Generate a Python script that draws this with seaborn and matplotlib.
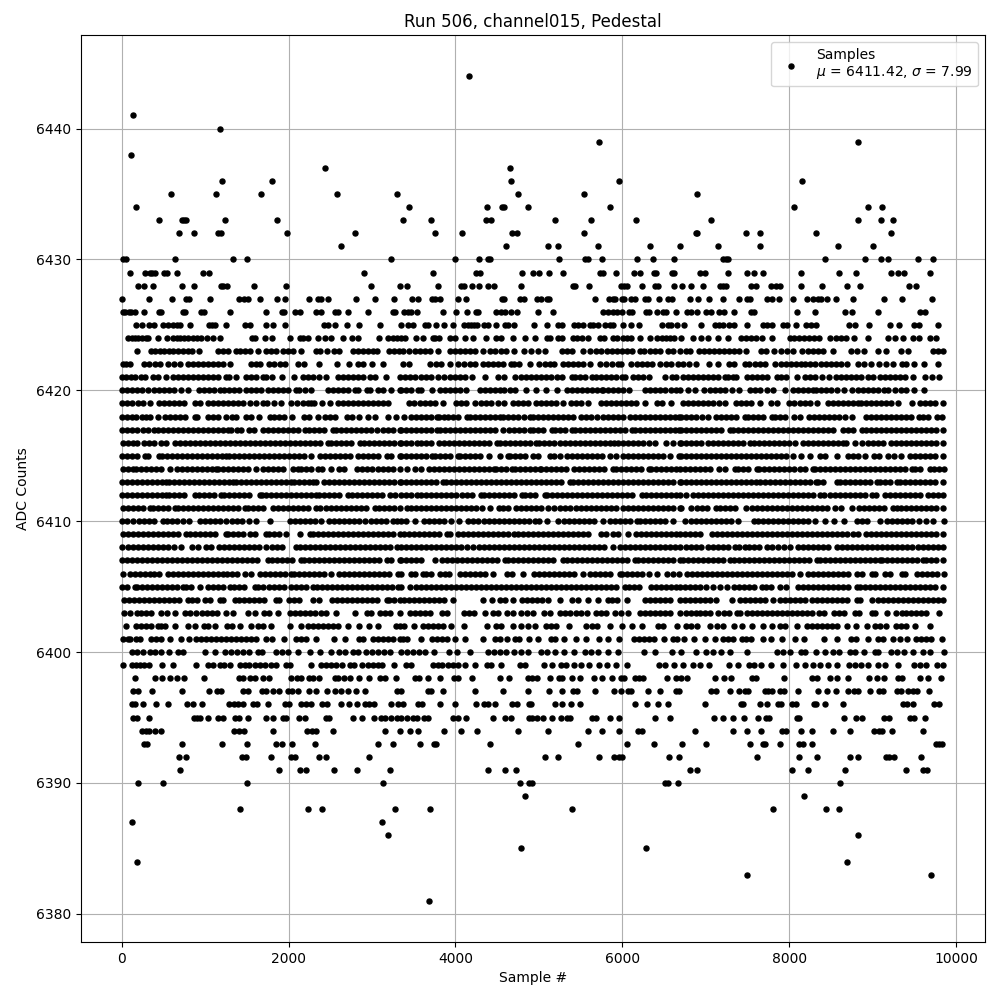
"""
Pedestal scatter for run 506, channel015
"""

import pandas as pd
import matplotlib
matplotlib.use('Agg')
import matplotlib.pyplot as plt
import seaborn as sns

# Sample numbers for each ADC count
s6444 = [4160]
s6441 = [140]
s6440 = [1180]
s6439 = [5725, 8826]
s6438 = [116]
s6437 = [2440, 4650]
s6436 = [1205, 1805, 4670, 5964, 8156]
s6435 = [595, 1134, 1673, 2583, 3302, 4750, 5545, 6898]
s6434 = [168, 3445, 4380, 4560, 4585, 4870, 5856, 8060, 8946, 9114]
s6433 = [451, 720, 748, 770, 1240, 1864, 3373, 3709, 4370, 4430, 5198, 5629, 6168, 7066, 8826, 9102, 9245]
s6432 = [690, 870, 1158, 1185, 1984, 2798, 3756, 4080, 4678, 4738, 5545, 6886, 6898, 7485, 7653, 8323, 9222]
s6431 = [2630, 4607, 5114, 5234, 5713, 6335, 6695, 7150, 7653, 8587, 9006]
s6430 = [20, 48, 643, 1337, 1505, 3230, 3996, 4283, 4390, 4420, 5245, 5557, 5593, 5760, 6180, 6371, 6623, 7210,
         7245, 7270, 8431, 8910, 9102, 9186, 9545, 9725]
s6429 = [104, 283, 339, 363, 399, 507, 543, 667, 978, 1050, 2906, 3733, 4252, 4300, 4802, 4934, 5006, 5126, 5293,
         5736, 5772, 5928, 6144, 6216, 6383, 6407, 6599, 6623, 6934, 6994, 7270, 7497, 7581, 7689, 8144, 8599, 8803,
         9222, 9306, 9378, 9689]
s6428 = [200, 271, 379, 727, 870, 1194, 1218, 1265, 1589, 1972, 2990, 3337, 3420, 3796, 4064, 4104, 4200, 4283,
         4390, 4463, 4786, 5413, 5437, 5605, 5988, 6024, 6060, 6240, 6395, 6431, 6623, 6719, 6826, 6970, 7174, 7210,
         7245, 7545, 7605, 7785, 7844, 7892, 8144, 8395, 8695, 8850, 9437, 9521]
s6427 = [8, 331, 607, 774, 810, 1062, 1409, 1469, 1517, 1661, 1864, 1960, 2247, 2355, 2391, 2475, 2810, 3038, 3265,
         3481, 3553, 3721, 3757, 3817, 4032, 4128, 4560, 4584, 4774, 4822, 4982, 5030, 5102, 5126, 5677, 5844, 5892,
         5916, 6000, 6024, 6108, 6156, 6275, 6311, 6443, 6551, 6599, 6814, 6910, 7042, 7210, 7401, 7497, 7533, 7737,
         7796, 7880, 8048, 8215, 8287, 8347, 8383, 8455, 8563, 8767, 9138, 9353, 9713]
s6426 = [20, 44, 92, 116, 164, 272, 451, 471, 739, 763, 954, 990, 1301, 1733, 1924, 1948, 2080, 2140, 2331, 2391,
         2559, 2595, 2714, 2954, 3253, 3277, 3385, 3433, 3469, 3541, 3852, 4008, 4140, 4248, 4272, 4487, 4547, 4595,
         4667, 4738, 4994, 5173, 5772, 5832, 5892, 5940, 6000, 6084, 6120, 6287, 6323, 6419, 6491, 6527, 6647, 6778,
         6826, 6898, 7006, 7066, 7162, 7222, 7341, 7545, 7581, 8096, 8311, 8671, 8755, 9066, 9569, 9629]
s6425 = [176, 248, 331, 391, 499, 559, 619, 667, 703, 822, 1050, 1086, 1122, 1253, 1481, 1541, 1733, 1817, 1960,
         2427, 2475, 2559, 2703, 2846, 3098, 3350, 3433, 3493, 3637, 3673, 3769, 3865, 3972, 4104, 4152, 4188, 4224,
         4260, 4344, 4392, 4487, 4595, 4631, 4707, 4946, 5102, 5234, 5282, 5425, 5473, 5533, 5617, 5653, 5713, 5796,
         5856, 5892, 6012, 6108, 6204, 6479, 6551, 6587, 6659, 6743, 6946, 7114, 7162, 7210, 7281, 7341, 7497, 7689,
         7737, 7796, 7928, 7976, 8084, 8204, 8263, 8323, 8719, 8791, 8958, 9210, 9318, 9497, 9557, 9785]
s6424 = [80, 120, 160, 200, 240, 287, 320, 440, 540, 620, 660, 700, 750, 800, 850, 900, 950, 1018, 1098, 1178, 1557,
         1600, 1717, 1805, 2016, 2136, 2176, 2230, 2355, 2435, 2515, 2655, 2755, 2834, 3086, 3194, 3250, 3300, 3350,
         3400, 3533, 3613, 3733, 3753, 3800, 3932, 3992, 4112, 4212, 4372, 4492, 4550, 4692, 4834, 4954, 5094, 5134,
         5234, 5274, 5413, 5453, 5513, 5593, 5733, 5780, 5892, 5932, 6012, 6052, 6100, 6212, 6331, 6411, 6471, 6520,
         6570, 6620, 6700, 6850, 6950, 7030, 7150, 7270, 7429, 7480, 7540, 7600, 7680, 7790, 8008, 8060, 8120, 8180,
         8240, 8300, 8360, 8487, 8567, 8620, 8680, 8780, 8946, 9186, 9266, 9366, 9485, 9557, 9685, 9765]
s6423 = [188, 350, 405, 455, 510, 565, 620, 680, 735, 790, 845, 925, 1150, 1210, 1270, 1370, 1420, 1480, 1540, 1640,
         1735, 1790, 1850, 1930, 1990, 2050, 2150, 2330, 2375, 2460, 2550, 2610, 2770, 2830, 2890, 2950, 3010, 3055,
         3200, 3260, 3330, 3375, 3450, 3515, 3575, 3640, 3700, 3790, 3930, 3990, 4050, 4110, 4170, 4230, 4330, 4415,
         4480, 4550, 4604, 4700, 4828, 4905, 4990, 5072, 5275, 5340, 5395, 5528, 5610, 5690, 5740, 5815, 5875, 5935,
         5995, 6055, 6115, 6215, 6265, 6335, 6390, 6450, 6550, 6610, 6690, 6760, 6810, 6925, 6985, 7045, 7105, 7165,
         7225, 7285, 7345, 7405, 7485, 7665, 7725, 7825, 7900, 7975, 8050, 8160, 8225, 8285, 8345, 8405, 8523, 8745,
         8815, 8900, 9065, 9165, 9345, 9425, 9725, 9785, 9845]
s6422 = [12, 55, 95, 270, 330, 395, 460, 550, 625, 695, 790, 850, 910, 970, 1030, 1090, 1150, 1210, 1295, 1550, 1610,
         1655, 1770, 1830, 1895, 1955, 2110, 2185, 2360, 2580, 2720, 2830, 2890, 2995, 3132, 3370, 3450, 3700, 3770,
         3825, 3932, 4035, 4105, 4175, 4240, 4330, 4390, 4450, 4510, 4570, 4665, 4700, 4765, 4900, 5005, 5070, 5130,
         5185, 5290, 5350, 5410, 5470, 5530, 5615, 5732, 5800, 5880, 5955, 5985, 6100, 6180, 6240, 6300, 6360, 6455,
         6530, 6585, 6668, 6725, 6800, 6890, 7045, 7150, 7275, 7340, 7470, 7525, 7590, 7650, 7710, 7830, 7905, 7965,
         8025, 8085, 8140, 8185, 8250, 8307, 8385, 8445, 8505, 8565, 8625, 8690, 8825, 8900, 8983, 9083, 9167, 9245,
         9350, 9405, 9500, 9615, 9783]
s6421 = [5, 55, 110, 165, 235, 285, 375, 435, 535, 610, 670, 730, 790, 850, 910, 970, 1030, 1090, 1150, 1255, 1290,
         1375, 1490, 1550, 1610, 1695, 1735, 1805, 1920, 2060, 2170, 2230, 2295, 2370, 2455, 2590, 2650, 2710, 2770,
         2830, 2890, 2975, 3040, 3172, 3340, 3400, 3460, 3515, 3590, 3650, 3710, 3795, 3860, 3930, 3990, 4050, 4110,
         4195, 4352, 4510, 4585, 4720, 4790, 4850, 4910, 4970, 5030, 5090, 5150, 5215, 5275, 5395, 5435, 5495, 5555,
         5635, 5690, 5750, 5810, 5870, 5930, 5995, 6030, 6135, 6195, 6250, 6315, 6510, 6595, 6650, 6725, 6785, 6845,
         6905, 6965, 7025, 7085, 7145, 7230, 7265, 7330, 7365, 7490, 7555, 7615, 7675, 7735, 7850, 7905, 7965, 8090,
         8190, 8250, 8310, 8390, 8475, 8565, 8625, 8685, 8745, 8805, 8865, 8950, 9007, 9085, 9150, 9210, 9265, 9335,
         9395, 9490, 9635, 9710, 9795]
s6420 = [5, 60, 120, 180, 240, 315, 390, 450, 510, 570, 630, 715, 792, 930, 990, 1050, 1110, 1175, 1230, 1290, 1350,
         1410, 1495, 1555, 1615, 1675, 1755, 1810, 1870, 1930, 1990, 2095, 2130, 2200, 2275, 2470, 2530, 2590, 2650,
         2710, 2795, 2830, 2935, 2972, 3070, 3135, 3230, 3335, 3350, 3410, 3470, 3555, 3592, 3720, 3810, 3870, 3930,
         3990, 4050, 4125, 4300, 4360, 4420, 4480, 4540, 4585, 4650, 4715, 4852, 4970, 5085, 5220, 5335, 5395, 5455,
         5515, 5575, 5635, 5695, 5755, 5775, 5835, 5895, 5955, 6015, 6085, 6275, 6335, 6395, 6455, 6515, 6585, 6650,
         6695, 6783, 6870, 6975, 7055, 7115, 7175, 7235, 7320, 7405, 7530, 7590, 7650, 7738, 7805, 7950, 8045, 8105,
         8165, 8225, 8290, 8325, 8385, 8445, 8505, 8578, 8663, 8755, 8825, 8885, 8945, 9005, 9065, 9140, 9185, 9270,
         9345, 9400, 9495, 9615]
s6419 = [5, 60, 120, 200, 255, 340, 450, 510, 570, 630, 690, 750, 875, 940, 1030, 1090, 1150, 1210, 1270, 1330, 1395,
         1450, 1535, 1610, 1695, 1740, 1830, 1915, 2030, 2105, 2175, 2230, 2275, 2310, 2400, 2495, 2590, 2650, 2710,
         2770, 2830, 2890, 2950, 3010, 3070, 3130, 3195, 3450, 3510, 3570, 3630, 3690, 3750, 3855, 4010, 4070, 4130,
         4235, 4310, 4370, 4430, 4515, 4580, 4695, 4750, 4810, 4870, 4965, 5030, 5090, 5150, 5210, 5295, 5390, 5450,
         5510, 5595, 5740, 5800, 5860, 5920, 5980, 6040, 6100, 6160, 6275, 6420, 6480, 6585, 6725, 6785, 6845, 6905,
         6965, 7025, 7085, 7165, 7235, 7365, 7425, 7485, 7545, 7650, 7785, 7850, 8005, 8065, 8125, 8185, 8245, 8340,
         8465, 8525, 8585, 8645, 8705, 8765, 8830, 8865, 8925, 8985, 9045, 9105, 9165, 9225, 9310, 9475, 9565, 9625,
         9685, 9745, 9845]
s6418 = [5, 60, 120, 175, 245, 295, 335, 435, 520, 580, 640, 700, 760, 875, 905, 1035, 1095, 1155, 1255, 1325, 1375,
         1490, 1545, 1650, 1775, 1820, 1880, 1940, 2045, 2190, 2250, 2355, 2440, 2500, 2560, 2695, 2760, 2845, 2950,
         3035, 3190, 3285, 3380, 3465, 3530, 3590, 3650, 3710, 3785, 3805, 3865, 3910, 3970, 4030, 4135, 4170, 4230,
         4290, 4350, 4410, 4470, 4535, 4570, 4630, 4690, 4750, 4825, 4890, 4935, 4990, 5050, 5110, 5170, 5230, 5290,
         5350, 5415, 5510, 5570, 5630, 5695, 5770, 5830, 5890, 5950, 6010, 6090, 6150, 6210, 6270, 6330, 6390, 6450,
         6510, 6570, 6630, 6675, 6700, 6760, 6820, 6880, 6960, 7023, 7125, 7185, 7245, 7305, 7365, 7470, 7505, 7565,
         7625, 7685, 7790, 7830, 7890, 7950, 8055, 8135, 8235, 8295, 8355, 8415, 8475, 8535, 8595, 8670, 8755, 8925,
         8985, 9045, 9105, 9165, 9225, 9285, 9345, 9405, 9465, 9560, 9605, 9670, 9770, 9835]
s6417 = [5, 60, 120, 180, 255, 310, 385, 435, 490, 550, 610, 670, 730, 790, 850, 910, 970, 1030, 1090, 1150, 1210,
         1270, 1315, 1385, 1435, 1530, 1590, 1695, 1750, 1810, 1870, 1930, 1990, 2050, 2110, 2195, 2240, 2300, 2360,
         2420, 2535, 2570, 2630, 2690, 2750, 2810, 2870, 2930, 2990, 3055, 3130, 3190, 3250, 3335, 3350, 3410, 3470,
         3530, 3590, 3650, 3710, 3775, 3810, 3870, 3930, 3990, 4050, 4110, 4170, 4230, 4290, 4350, 4410, 4470, 4575,
         4640, 4700, 4760, 4820, 4895, 4930, 4990, 5050, 5155, 5190, 5250, 5310, 5395, 5430, 5490, 5550, 5610, 5670,
         5730, 5790, 5850, 5910, 5970, 6030, 6115, 6150, 6210, 6270, 6330, 6390, 6450, 6510, 6570, 6630, 6675, 6705,
         6765, 6825, 6885, 6945, 7005, 7065, 7125, 7185, 7290, 7325, 7385, 7445, 7505, 7565, 7625, 7685, 7745, 7805,
         7865, 7925, 7985, 8045, 8105, 8165, 8225, 8290, 8345, 8405, 8465, 8525, 8650, 8705, 8765, 8880, 8925, 8985,
         9045, 9105, 9165, 9225, 9285, 9345, 9405, 9465, 9525, 9585, 9645, 9705, 9765, 9845]
s6416 = [10, 70, 130, 185, 270, 330, 390, 470, 535, 640, 700, 760, 820, 880, 940, 1000, 1060, 1120, 1180, 1240, 1300,
         1360, 1420, 1480, 1540, 1600, 1655, 1720, 1780, 1840, 1900, 1960, 2020, 2080, 2140, 2200, 2260, 2320, 2380,
         2475, 2510, 2570, 2630, 2690, 2750, 2855, 2910, 2970, 3030, 3090, 3150, 3210, 3270, 3335, 3350, 3410, 3470,
         3535, 3590, 3650, 3710, 3805, 3860, 3920, 3980, 4040, 4100, 4160, 4220, 4280, 4340, 4400, 4495, 4530, 4590,
         4650, 4710, 4770, 4830, 4890, 4965, 5000, 5060, 5120, 5180, 5250, 5315, 5370, 5430, 5490, 5550, 5610, 5670,
         5730, 5790, 5855, 5900, 5955, 6015, 6075, 6135, 6195, 6255, 6315, 6395, 6528, 6610, 6695, 6705, 6765, 6825,
         6885, 6945, 7030, 7085, 7145, 7205, 7265, 7325, 7385, 7445, 7530, 7575, 7645, 7705, 7765, 7825, 7885, 7945,
         8005, 8070, 8165, 8225, 8285, 8345, 8405, 8465, 8525, 8585, 8650, 8687, 8785, 8870, 8945, 9005, 9065, 9125,
         9218, 9285, 9345, 9405, 9465, 9525, 9585, 9645, 9705, 9765, 9845]
s6415 = [5, 65, 125, 185, 275, 320, 445, 480, 540, 600, 660, 720, 780, 840, 900, 960, 1020, 1080, 1140, 1200, 1255,
         1290, 1350, 1410, 1470, 1530, 1590, 1650, 1710, 1770, 1830, 1890, 1950, 2010, 2070, 2130, 2190, 2275, 2380,
         2440, 2500, 2560, 2620, 2680, 2740, 2835, 2890, 2950, 3010, 3070, 3175, 3230, 3335, 3350, 3410, 3470, 3530,
         3590, 3650, 3715, 3750, 3810, 3870, 3930, 4035, 4060, 4120, 4180, 4240, 4300, 4405, 4530, 4635, 4660, 4720,
         4780, 4840, 4935, 4990, 5135, 5180, 5252, 5340, 5400, 5460, 5520, 5580, 5640, 5700, 5760, 5855, 5920, 6010,
         6070, 6130, 6190, 6250, 6310, 6370, 6430, 6490, 6575, 6680, 6705, 6765, 6825, 6885, 6945, 7005, 7065, 7125,
         7185, 7245, 7305, 7365, 7425, 7485, 7545, 7605, 7665, 7725, 7785, 7845, 7905, 7965, 8050, 8145, 8250, 8365,
         8425, 8578, 8705, 8765, 8825, 8910, 9015, 9075, 9190, 9255, 9345, 9450, 9505, 9565, 9625, 9685, 9745, 9845]
s6414 = [15, 75, 135, 170, 230, 290, 350, 410, 470, 575, 660, 720, 780, 840, 900, 960, 1020, 1080, 1135, 1150, 1210,
         1270, 1330, 1390, 1450, 1510, 1605, 1690, 1750, 1810, 1870, 1930, 2055, 2110, 2155, 2210, 2270, 2355, 2400,
         2515, 2610, 2670, 2825, 2880, 2940, 3000, 3075, 3130, 3190, 3250, 3335, 3425, 3520, 3585, 3685, 3740, 3800,
         3860, 3920, 3980, 4040, 4100, 4160, 4220, 4280, 4340, 4400, 4465, 4490, 4550, 4610, 4675, 4710, 4770, 4830,
         4890, 4950, 5015, 5030, 5090, 5150, 5210, 5270, 5330, 5425, 5480, 5540, 5600, 5660, 5720, 5780, 5885, 5930,
         5990, 6050, 6110, 6170, 6230, 6315, 6340, 6400, 6460, 6520, 6580, 6640, 6695, 6750, 6810, 6870, 6930, 6990,
         7050, 7160, 7235, 7350, 7385, 7445, 7505, 7610, 7645, 7705, 7765, 7825, 7885, 7945, 8005, 8065, 8125, 8185,
         8290, 8315, 8375, 8435, 8495, 8555, 8615, 8675, 8735, 8795, 8855, 8915, 8975, 9035, 9095, 9155, 9215, 9275,
         9335, 9395, 9470, 9515, 9575, 9690, 9735, 9795, 9856]
s6413 = [5, 60, 120, 180, 240, 300, 360, 420, 480, 535, 570, 630, 690, 750, 810, 870, 930, 990, 1050, 1110, 1170,
         1230, 1290, 1335, 1370, 1430, 1490, 1550, 1610, 1670, 1730, 1790, 1850, 1910, 1970, 2035, 2060, 2120, 2180,
         2240, 2295, 2330, 2430, 2490, 2550, 2610, 2670, 2730, 2790, 2850, 2910, 2970, 3030, 3090, 3150, 3210, 3270,
         3335, 3350, 3410, 3470, 3530, 3590, 3650, 3710, 3770, 3855, 3890, 3950, 4010, 4070, 4130, 4190, 4250, 4310,
         4370, 4430, 4490, 4550, 4610, 4670, 4730, 4790, 4850, 4910, 4970, 5030, 5090, 5150, 5210, 5270, 5375, 5410,
         5470, 5530, 5590, 5650, 5710, 5770, 5830, 5890, 5950, 6010, 6070, 6130, 6190, 6250, 6310, 6370, 6430, 6490,
         6550, 6610, 6695, 6705, 6765, 6825, 6885, 6945, 7005, 7065, 7125, 7185, 7245, 7305, 7365, 7425, 7485, 7545,
         7600, 7655, 7715, 7775, 7835, 7895, 7955, 8015, 8075, 8135, 8195, 8255, 8320, 8350, 8410, 8570, 8615, 8675,
         8735, 8795, 8855, 8915, 8975, 9050, 9085, 9145, 9205, 9290, 9335, 9395, 9455, 9515, 9575, 9635, 9695, 9755,
         9850]
s6412 = [5, 65, 125, 185, 245, 305, 365, 425, 485, 535, 570, 630, 690, 750, 875, 930, 990, 1050, 1110, 1195, 1230,
         1290, 1350, 1410, 1470, 1530, 1655, 1680, 1730, 1790, 1850, 1910, 1970, 2030, 2090, 2150, 2210, 2270, 2335,
         2370, 2430, 2490, 2550, 2610, 2715, 2760, 2820, 2880, 2940, 3000, 3060, 3120, 3215, 3280, 3350, 3410, 3470,
         3545, 3590, 3650, 3710, 3770, 3830, 3890, 3950, 4010, 4085, 4140, 4200, 4305, 4340, 4400, 4460, 4520, 4580,
         4640, 4700, 4795, 4830, 4890, 4950, 5075, 5100, 5160, 5220, 5280, 5340, 5400, 5460, 5520, 5580, 5640, 5700,
         5760, 5820, 5880, 5940, 6000, 6060, 6120, 6235, 6280, 6340, 6400, 6460, 6520, 6580, 6640, 6695, 6770, 6845,
         6905, 6965, 7025, 7085, 7145, 7205, 7265, 7325, 7385, 7445, 7505, 7565, 7625, 7685, 7745, 7805, 7865, 7925,
         7985, 8045, 8105, 8165, 8225, 8285, 8370, 8423, 8495, 8555, 8615, 8675, 8735, 8795, 8855, 8915, 9000, 9045,
         9150, 9205, 9265, 9325, 9385, 9445, 9505, 9570, 9665, 9725, 9785, 9845]
s6411 = [15, 75, 135, 195, 255, 335, 370, 430, 490, 550, 635, 670, 730, 790, 850, 910, 970, 1030, 1090, 1150, 1210,
         1270, 1330, 1390, 1475, 1520, 1580, 1640, 1700, 1815, 1870, 1930, 1990, 2050, 2110, 2170, 2230, 2335, 2380,
         2455, 2510, 2570, 2630, 2690, 2750, 2810, 2870, 2930, 3035, 3080, 3140, 3200, 3260, 3335, 3425, 3470, 3530,
         3590, 3650, 3710, 3770, 3830, 3890, 3950, 4010, 4070, 4130, 4190, 4250, 4325, 4410, 4525, 4570, 4635, 4730,
         4790, 4850, 4910, 4970, 5030, 5105, 5180, 5260, 5320, 5380, 5440, 5500, 5560, 5620, 5680, 5740, 5800, 5865,
         5930, 6010, 6070, 6130, 6190, 6250, 6310, 6370, 6430, 6490, 6550, 6610, 6695, 6710, 6830, 6895, 6955, 7015,
         7120, 7175, 7235, 7295, 7355, 7480, 7555, 7615, 7675, 7735, 7795, 7855, 7915, 7975, 8035, 8095, 8155, 8215,
         8275, 8335, 8395, 8455, 8550, 8625, 8750, 8835, 8895, 8955, 9015, 9075, 9135, 9250, 9295, 9345, 9405, 9465,
         9525, 9585, 9645, 9705, 9765, 9845]
s6410 = [5, 65, 135, 210, 270, 330, 390, 495, 540, 600, 660, 735, 810, 940, 1000, 1060, 1120, 1180, 1255, 1320, 1380,
         1440, 1525, 1610, 1780, 2020, 2080, 2140, 2200, 2260, 2320, 2395, 2480, 2540, 2600, 2660, 2720, 2780, 2840,
         2915, 2990, 3050, 3110, 3170, 3255, 3300, 3350, 3410, 3515, 3620, 3680, 3740, 3800, 3860, 3945, 4040, 4150,
         4210, 4270, 4345, 4400, 4460, 4520, 4580, 4640, 4700, 4760, 4820, 4880, 4955, 5000, 5100, 5225, 5300, 5360,
         5420, 5480, 5540, 5600, 5660, 5775, 5850, 5910, 5970, 6030, 6090, 6175, 6210, 6270, 6330, 6390, 6450, 6510,
         6605, 6755, 6823, 6885, 6945, 7005, 7065, 7125, 7185, 7245, 7305, 7390, 7585, 7630, 7685, 7745, 7805, 7865,
         7925, 7985, 8045, 8105, 8165, 8225, 8310, 8427, 8543, 8655, 8815, 8875, 8935, 9090, 9175, 9235, 9295, 9355,
         9415, 9475, 9560, 9640, 9730, 9855]
s6409 = [15, 75, 135, 195, 255, 310, 370, 430, 490, 550, 610, 670, 775, 820, 880, 940, 1000, 1060, 1120, 1245, 1270,
         1330, 1390, 1450, 1535, 1600, 1735, 1770, 1830, 1890, 1975, 2140, 2255, 2290, 2350, 2410, 2470, 2530, 2590,
         2650, 2710, 2770, 2830, 2890, 2950, 3010, 3070, 3130, 3190, 3250, 3335, 3380, 3440, 3500, 3560, 3620, 3680,
         3740, 3800, 3895, 3940, 4035, 4090, 4150, 4210, 4270, 4330, 4390, 4450, 4510, 4570, 4630, 4705, 4750, 4810,
         4870, 4930, 4990, 5050, 5110, 5170, 5230, 5290, 5355, 5410, 5470, 5530, 5590, 5745, 5810, 5890, 5950, 6065,
         6160, 6220, 6280, 6340, 6400, 6460, 6520, 6580, 6640, 6695, 6755, 6815, 6875, 6935, 7075, 7135, 7195, 7255,
         7315, 7375, 7435, 7495, 7555, 7615, 7675, 7735, 7795, 7855, 7915, 7975, 8035, 8095, 8155, 8215, 8275, 8335,
         8395, 8455, 8515, 8575, 8635, 8695, 8770, 8827, 8925, 8985, 9045, 9105, 9165, 9225, 9285, 9345, 9405, 9465,
         9525, 9585, 9645, 9705, 9765, 9845]
s6408 = [8, 80, 140, 200, 260, 320, 380, 440, 500, 560, 625, 710, 845, 920, 1005, 1070, 1170, 1230, 1290, 1350, 1410,
         1470, 1530, 1590, 1650, 1735, 1800, 1860, 1920, 2095, 2140, 2200, 2260, 2320, 2380, 2440, 2500, 2560, 2620,
         2680, 2740, 2800, 2860, 2920, 2980, 3040, 3100, 3160, 3220, 3295, 3350, 3410, 3470, 3530, 3590, 3650, 3710,
         3770, 3830, 3890, 3950, 4010, 4070, 4135, 4210, 4280, 4340, 4400, 4460, 4520, 4580, 4640, 4700, 4760, 4820,
         4880, 4940, 5000, 5060, 5120, 5180, 5240, 5300, 5360, 5420, 5480, 5540, 5600, 5660, 5720, 5780, 5895, 5970,
         6030, 6090, 6150, 6210, 6270, 6330, 6390, 6450, 6510, 6570, 6630, 6695, 6760, 6820, 6880, 6950, 7025, 7085,
         7145, 7205, 7265, 7350, 7405, 7470, 7525, 7585, 7645, 7730, 7790, 7870, 7935, 8015, 8105, 8165, 8225, 8285,
         8345, 8405, 8465, 8570, 8635, 8695, 8755, 8815, 8875, 8935, 8995, 9055, 9115, 9175, 9235, 9295, 9355, 9415,
         9470, 9545, 9605, 9665, 9725, 9785, 9845]
s6407 = [5, 65, 125, 185, 245, 305, 365, 425, 485, 545, 605, 665, 725, 785, 845, 905, 965, 1025, 1085, 1145, 1205,
         1265, 1325, 1385, 1445, 1505, 1565, 1625, 1755, 1800, 1860, 1920, 1980, 2040, 2155, 2180, 2240, 2300, 2360,
         2420, 2480, 2540, 2600, 2660, 2720, 2780, 2840, 2900, 2960, 3020, 3080, 3175, 3230, 3335, 3350, 3410, 3470,
         3530, 3590, 3755, 3840, 3900, 3960, 4020, 4080, 4140, 4200, 4260, 4320, 4380, 4440, 4500, 4595, 4630, 4690,
         4750, 4810, 4870, 4930, 4990, 5050, 5110, 5170, 5295, 5340, 5400, 5460, 5520, 5580, 5640, 5700, 5760, 5820,
         5880, 5940, 6000, 6060, 6155, 6190, 6250, 6310, 6370, 6430, 6490, 6550, 6610, 6695, 6725, 6785, 6845, 6905,
         6965, 7025, 7085, 7145, 7205, 7290, 7335, 7395, 7455, 7515, 7575, 7635, 7695, 7755, 7815, 7875, 7935, 7995,
         8055, 8115, 8175, 8235, 8330, 8365, 8425, 8485, 8545, 8605, 8665, 8725, 8785, 8845, 8905, 8965, 9025, 9090,
         9115, 9175, 9235, 9295, 9355, 9415, 9475, 9535, 9600, 9645, 9705, 9765, 9845]
s6406 = [20, 100, 160, 220, 280, 345, 390, 450, 555, 620, 680, 740, 800, 860, 920, 980, 1040, 1100, 1160, 1215, 1260,
         1320, 1380, 1475, 1550, 1655, 1720, 1780, 1840, 1900, 1960, 2035, 2060, 2120, 2180, 2240, 2300, 2360, 2420,
         2515, 2610, 2670, 2730, 2790, 2850, 2910, 2970, 3030, 3090, 3150, 3210, 3315, 3350, 3465, 3520, 3615, 3650,
         3710, 3815, 3870, 3925, 4050, 4110, 4170, 4230, 4290, 4350, 4455, 4620, 4680, 4805, 4940, 5000, 5060, 5120,
         5180, 5240, 5300, 5360, 5425, 5530, 5610, 5670, 5730, 5790, 5850, 5975, 6000, 6060, 6120, 6180, 6240, 6325,
         6420, 6535, 6610, 6680, 6775, 6835, 6895, 6955, 7015, 7080, 7135, 7195, 7255, 7315, 7375, 7435, 7495, 7555,
         7615, 7675, 7735, 7795, 7855, 7915, 7975, 8035, 8130, 8225, 8285, 8345, 8405, 8465, 8525, 8585, 8645, 8705,
         8810, 8870, 8990, 9030, 9145, 9205, 9350, 9395, 9530, 9595, 9655, 9715, 9775, 9855]
s6405 = [5, 65, 155, 180, 240, 300, 360, 420, 480, 540, 600, 660, 735, 770, 830, 935, 1040, 1100, 1160, 1220, 1295,
         1350, 1410, 1470, 1595, 1640, 1700, 1760, 1820, 1880, 1940, 2035, 2090, 2150, 2210, 2295, 2340, 2400, 2460,
         2520, 2580, 2640, 2700, 2760, 2820, 2880, 2940, 3000, 3060, 3120, 3180, 3240, 3315, 3350, 3455, 3530, 3590,
         3650, 3710, 3770, 3830, 3890, 3950, 4010, 4070, 4130, 4190, 4250, 4310, 4370, 4430, 4490, 4550, 4610, 4670,
         4730, 4790, 4850, 4910, 4970, 5030, 5090, 5150, 5210, 5270, 5330, 5390, 5450, 5510, 5570, 5630, 5690, 5750,
         5810, 5870, 5930, 6035, 6080, 6140, 6200, 6345, 6400, 6460, 6520, 6580, 6640, 6695, 6755, 6815, 6875, 6935,
         7000, 7090, 7167, 7255, 7345, 7405, 7465, 7525, 7585, 7680, 7725, 7785, 7890, 7965, 8110, 8165, 8225, 8285,
         8345, 8405, 8465, 8525, 8585, 8645, 8705, 8810, 8855, 8915, 8975, 9035, 9095, 9155, 9215, 9275, 9335, 9395,
         9455, 9515, 9575, 9635, 9695, 9755, 9850]
s6404 = [30, 90, 150, 210, 270, 330, 390, 450, 510, 570, 630, 690, 795, 845, 905, 1000, 1060, 1175, 1220, 1355, 1410,
         1470, 1530, 1590, 1650, 1710, 1845, 1890, 2005, 2060, 2120, 2295, 2360, 2520, 2580, 2640, 2700, 2760, 2820,
         2880, 2940, 3000, 3060, 3175, 3210, 3270, 3335, 3380, 3440, 3500, 3560, 3620, 3680, 3740, 3800, 3860, 3975,
         4330, 4435, 4540, 4600, 4685, 4800, 4860, 4920, 4980, 5040, 5115, 5260, 5395, 5470, 5595, 5710, 5825, 5880,
         5940, 6055, 6270, 6330, 6390, 6450, 6510, 6570, 6695, 6755, 6815, 6875, 6935, 6995, 7055, 7130, 7315, 7415,
         7475, 7535, 7595, 7655, 7715, 7810, 7895, 7955, 8015, 8075, 8135, 8195, 8270, 8335, 8395, 8455, 8515, 8575,
         8635, 8695, 8810, 8850, 9000, 9065, 9125, 9185, 9245, 9305, 9365, 9425, 9485, 9545, 9605, 9665, 9725, 9785,
         9845]
s6403 = [28, 105, 185, 230, 290, 350, 475, 540, 635, 760, 820, 895, 960, 1020, 1080, 1140, 1245, 1330, 1520, 1595,
         1710, 1770, 1875, 2020, 2080, 2140, 2200, 2260, 2320, 2395, 2455, 2570, 2800, 2935, 2990, 3100, 3160, 3220,
         3335, 3460, 3520, 3580, 3640, 3700, 3835, 3900, 4100, 4160, 4220, 4355, 4450, 4510, 4615, 4690, 4785, 4860,
         4935, 5060, 5135, 5260, 5320, 5380, 5440, 5500, 5575, 5680, 5740, 5800, 5915, 5990, 6075, 6210, 6270, 6330,
         6390, 6450, 6510, 6570, 6695, 6760, 6820, 6890, 6935, 6995, 7055, 7150, 7215, 7275, 7378, 7415, 7490, 7555,
         7615, 7675, 7735, 7795, 7855, 7915, 7975, 8035, 8095, 8155, 8215, 8275, 8360, 8415, 8535, 8595, 8655, 8790,
         8835, 8990, 9030, 9170, 9285, 9350, 9405, 9465, 9525, 9585, 9645, 9800]
s6402 = [52, 170, 230, 290, 350, 435, 470, 520, 640, 800, 875, 990, 1035, 1120, 1260, 1320, 1415, 1550, 1630, 1690,
         1795, 2020, 2155, 2230, 2290, 2350, 2410, 2470, 2530, 2590, 2715, 2850, 2970, 3075, 3290, 3340, 3390, 3505,
         3610, 3670, 3730, 3790, 3850, 3945, 4100, 4380, 4490, 4550, 4695, 4790, 4875, 4950, 5090, 5150, 5210, 5365,
         5570, 5635, 5700, 5850, 5995, 6120, 6240, 6430, 6490, 6655, 6765, 6830, 6895, 7050, 7135, 7210, 7345, 7430,
         7555, 7685, 7800, 7895, 7955, 8090, 8215, 8275, 8335, 8395, 8455, 8515, 8575, 8690, 8805, 8930, 9025, 9085,
         9160, 9285, 9345, 9405, 9510, 9695]
s6401 = [12, 75, 105, 175, 220, 350, 410, 470, 575, 710, 805, 890, 950, 1010, 1070, 1130, 1190, 1250, 1310, 1370,
         1430, 1490, 1555, 1610, 1725, 1800, 1950, 2090, 2150, 2210, 2335, 2550, 2675, 2850, 2895, 3010, 3070, 3130,
         3190, 3250, 3335, 3370, 3415, 3590, 3720, 3780, 3840, 3900, 3995, 4120, 4330, 4470, 4530, 4615, 4710, 4765,
         4880, 4995, 5150, 5195, 5300, 5440, 5560, 5720, 5830, 5960, 6140, 6200, 6260, 6320, 6380, 6495, 6610, 6655,
         6735, 6865, 6990, 7115, 7205, 7265, 7325, 7430, 7485, 7545, 7690, 7785, 7910, 8067, 8175, 8415, 8575, 8745,
         8805, 8950, 9065, 9125, 9250, 9325, 9410, 9525, 9585, 9645, 9705, 9830]
s6400 = [128, 188, 259, 343, 403, 475, 571, 679, 739, 1002, 1122, 1241, 1313, 1385, 1457, 1529, 1637, 1685, 1852,
         1924, 1996, 2116, 2259, 2379, 2507, 2607, 2679, 2774, 2834, 2930, 3002, 3074, 3146, 3217, 3350, 3421, 3493,
         3565, 3637, 3745, 3924, 4020, 4176, 4391, 4463, 4535, 4607, 4703, 4786, 4870, 5030, 5102, 5198, 5305, 5425,
         5557, 5629, 5713, 5832, 5952, 6263, 6395, 6599, 6699, 6886, 7006, 7090, 7186, 7293, 7497, 7856, 7928, 8012,
         8144, 8191, 8323, 8431, 8527, 8599, 8731, 8791, 8898, 9030, 9066, 9222, 9294, 9378, 9485, 9605, 9689, 9856]
s6399 = [20, 128, 176, 224, 272, 331, 487, 619, 894, 1038, 1098, 1182, 1230, 1301, 1421, 1481, 1529, 1601, 1661, 1721,
         1793, 1852, 1972, 2020, 2271, 2391, 2455, 2511, 2571, 2643, 2739, 2787, 2882, 2954, 3014, 3074, 3122, 3265,
         3409, 3469, 3733, 3793, 3840, 3912, 3972, 4032, 4116, 4236, 4379, 4427, 4551, 4774, 4834, 5066, 5162, 5270,
         5329, 5425, 5509, 5605, 5725, 5820, 5928, 6060, 6443, 6515, 6623, 6731, 6850, 6934, 7042, 7281, 7389, 7521,
         7581, 7665, 7785, 7928, 8084, 8191, 8287, 8371, 8467, 8575, 8719, 8791, 8862, 8946, 9066, 9150, 9306, 9497,
         9569, 9645, 9773, 9844]
s6398 = [164, 403, 487, 583, 667, 751, 990, 1409, 1457, 1541, 1601, 1697, 1769, 2032, 2104, 2152, 2247, 2295, 2367,
         2559, 2595, 2667, 2739, 2846, 2966, 3098, 3158, 3289, 3517, 3565, 3673, 3816, 3984, 4032, 4200, 4535, 4643,
         4870, 4914, 4974, 5138, 5246, 5282, 5401, 5497, 5665, 5760, 5880, 5988, 6024, 6156, 6204, 6251, 6539, 6647,
         6707, 6778, 7114, 7222, 7305, 7557, 7605, 7940, 8275, 8335, 8491, 8575, 8707, 8958, 9054, 9138, 9306, 9353,
         9569, 9665, 9820]
s6397 = [140, 200, 367, 727, 1050, 1146, 1194, 1457, 1517, 1685, 1733, 1817, 1888, 1996, 2044, 2116, 2247, 2331, 2463,
         2559, 2631, 2714, 2810, 2918, 3301, 3350, 3673, 3709, 3852, 4236, 4571, 4870, 5126, 5282, 5413, 5461, 5677,
         5904, 5988, 6072, 6108, 6311, 6455, 6647, 6683, 7066, 7126, 7289, 7401, 7473, 7509, 7713, 7749, 7796, 7892,
         7940, 8108, 8347, 8455, 8559, 8707, 8779, 8826, 8970, 9078, 9126, 9294, 9342, 9425, 9485, 9533, 9673]
s6396 = [124, 164, 259, 415, 559, 787, 859, 966, 1289, 1349, 1397, 1457, 1577, 1625, 1757, 1960, 2008, 2152, 2212,
         2272, 2403, 2463, 2631, 2727, 2822, 2918, 2966, 3026, 3229, 3313, 3373, 3553, 3601, 3816, 3996, 4248, 4343,
         4391, 4475, 4679, 4739, 4882, 4902, 5198, 5282, 5389, 5497, 6156, 6299, 6431, 6551, 6994, 7425, 7449, 7653,
         7737, 7868, 7904, 8036, 8084, 8299, 8323, 8431, 8647, 9366, 9413, 9485, 9737, 9796]
s6395 = [140, 188, 331, 870, 906, 942, 1034, 1158, 1218, 1361, 1409, 1517, 1733, 1817, 1936, 1972, 2128, 2200, 2455,
         2487, 2774, 2878, 3026, 3110, 3158, 3230, 3301, 3350, 3421, 3493, 3541, 3625, 3673, 3972, 4032, 4128, 4451,
         4595, 4667, 4882, 4914, 4974, 5054, 5162, 5262, 5341, 5377, 5641, 5689, 5856, 5964, 6395, 6575, 7102, 7210,
         7329, 7461, 7629, 7725, 7760, 8096, 8120, 8659, 8803, 8874, 9138, 9198, 9449, 9497, 9629]
s6394 = [248, 290, 331, 399, 475, 1350, 1410, 1469, 1808, 2224, 2283, 2331, 2535, 3158, 3337, 3457, 3553, 3864, 4068,
         4260, 4751, 5114, 5593, 5760, 5964, 6192, 6240, 6874, 7329, 7497, 7665, 7916, 7964, 8144, 8275, 8527, 8731,
         9018, 9078, 9114, 9234, 9605]
s6393 = [272, 308, 727, 1206, 1505, 1852, 1924, 2044, 2319, 3074, 3253, 3577, 3745, 3769, 4415, 5473, 6060, 6383,
         6719, 7006, 7533, 7689, 7713, 7892, 8120, 8168, 8275, 9760, 9796, 9832]
s6392 = [691, 775, 1445, 1493, 1793, 2032, 2080, 2367, 2451, 2966, 5078, 5234, 5725, 5904, 5964, 6000, 6563, 6683,
         7617, 8120, 8335, 8731, 8826, 9162, 9198, 9258, 9581]
s6391 = [703, 1888, 2140, 2212, 2547, 2822, 3217, 4391, 4595, 4727, 6814, 6898, 8036, 8227, 8671, 9401, 9610, 9650]
s6390 = [200, 500, 1505, 3133, 4774, 4882, 4914, 6515, 6551, 6671, 8611]
s6389 = [4834, 8180]
s6388 = [1421, 2236, 2403, 3277, 3697, 5401, 7808, 8443, 8599]
s6387 = [128, 3121]
s6386 = [3193, 8826]
s6385 = [4786, 6287]
s6384 = [188, 8695]
s6383 = [7497, 9701]
s6381 = [3681]

adc_rows = {
    6444: s6444, 6441: s6441, 6440: s6440, 6439: s6439, 6438: s6438, 6437: s6437, 6436: s6436, 6435: s6435,
    6434: s6434, 6433: s6433, 6432: s6432, 6431: s6431, 6430: s6430, 6429: s6429, 6428: s6428, 6427: s6427,
    6426: s6426, 6425: s6425, 6424: s6424, 6423: s6423, 6422: s6422, 6421: s6421, 6420: s6420, 6419: s6419,
    6418: s6418, 6417: s6417, 6416: s6416, 6415: s6415, 6414: s6414, 6413: s6413, 6412: s6412, 6411: s6411,
    6410: s6410, 6409: s6409, 6408: s6408, 6407: s6407, 6406: s6406, 6405: s6405, 6404: s6404, 6403: s6403,
    6402: s6402, 6401: s6401, 6400: s6400, 6399: s6399, 6398: s6398, 6397: s6397, 6396: s6396, 6395: s6395,
    6394: s6394, 6393: s6393, 6392: s6392, 6391: s6391, 6390: s6390, 6389: s6389, 6388: s6388, 6387: s6387,
    6386: s6386, 6385: s6385, 6384: s6384, 6383: s6383, 6381: s6381,
}

# Long table for seaborn
df = pd.DataFrame(
    [(x, adc) for adc, xs in adc_rows.items() for x in xs],
    columns=['sample', 'adc']
)

fig, ax = plt.subplots(figsize=(10, 10), dpi=100)
sns.scatterplot(
    data=df, x='sample', y='adc', ax=ax,
    color='black', marker='.', s=52, edgecolor='black', linewidth=1, zorder=2,
    label='Samples\n$\\mu$ = 6411.42, $\\sigma$ = 7.99'
)
ax.set_title('Run 506, channel015, Pedestal')
ax.set_xlabel('Sample #')
ax.set_ylabel('ADC Counts')
ax.grid(True)
ax.legend(loc='upper right')
fig.subplots_adjust(left=0.081, right=0.985, top=0.965, bottom=0.058)
fig.savefig('out.png', dpi=100)
